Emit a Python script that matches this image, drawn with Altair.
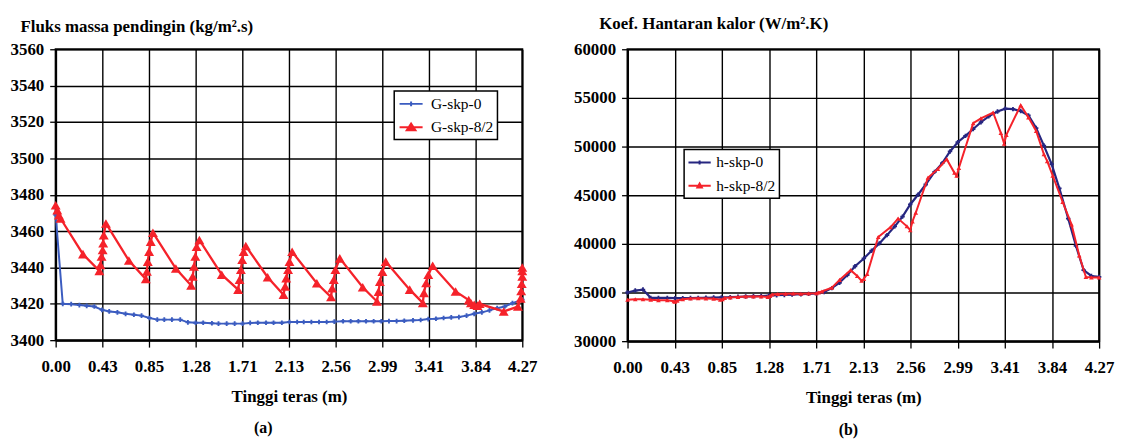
import altair as alt
import pandas as pd

# ---------------- data ----------------
X_TICKS = [0.0, 0.427, 0.854, 1.281, 1.708, 2.135, 2.562, 2.989, 3.416, 3.843, 4.27]
X_LABELS = ["0.00", "0.43", "0.85", "1.28", "1.71", "2.13", "2.56", "2.99", "3.41", "3.84", "4.27"]

# (a) Fluks massa pendingin
g0_x = [0.00, 0.065, 0.142, 0.217, 0.284, 0.354, 0.424, 0.49, 0.565, 0.64,
        0.716, 0.786, 0.858, 0.93, 0.994, 1.064, 1.14, 1.21, 1.28, 1.35,
        1.43, 1.49, 1.565, 1.638, 1.71, 1.78, 1.85, 1.925, 1.994, 2.07,
        2.14, 2.21, 2.27, 2.34, 2.41, 2.48, 2.55, 2.63, 2.70, 2.77,
        2.84, 2.91, 2.98, 3.05, 3.12, 3.19, 3.27, 3.34, 3.41, 3.48,
        3.55, 3.62, 3.69, 3.76, 3.83, 3.90, 3.97, 4.04, 4.11, 4.18, 4.27]
g0_y = [3469, 3420, 3419.8, 3419.3, 3418.9, 3418.5, 3416.7, 3415.8, 3415.3, 3414.5,
        3414, 3413.5, 3412.2, 3411.3, 3411.3, 3411.3, 3411.3, 3409.8, 3409.6, 3409.6,
        3409.3, 3409.1, 3409.1, 3409.1, 3409.1, 3409.5, 3409.6, 3409.6, 3409.6, 3409.6,
        3410, 3410, 3410, 3410, 3410, 3410, 3410.2, 3410.4, 3410.4, 3410.4,
        3410.4, 3410.4, 3410.4, 3410.5, 3410.5, 3410.7, 3410.9, 3411.1, 3411.6, 3411.8,
        3412.2, 3412.5, 3412.7, 3413.5, 3414.5, 3415.3, 3416.4, 3417.6, 3418.5, 3420.4, 3422.3]

g82_x = [0.00, 0.015, 0.03, 0.045, 0.25, 0.40, 0.41, 0.42, 0.43, 0.435, 0.44, 0.46,
         0.67, 0.825, 0.835, 0.843, 0.855, 0.87, 0.89,
         1.10, 1.24, 1.254, 1.266, 1.278, 1.29, 1.315,
         1.52, 1.67, 1.683, 1.695, 1.707, 1.72, 1.74,
         1.94, 2.085, 2.10, 2.11, 2.127, 2.14, 2.164,
         2.39, 2.52, 2.53, 2.545, 2.56, 2.60,
         2.81, 2.94, 2.955, 2.967, 2.99, 3.02,
         3.24, 3.36, 3.37, 3.39, 3.41, 3.45,
         3.66, 3.78, 3.80, 3.83, 3.86, 3.88,
         4.10, 4.23, 4.255, 4.26, 4.265, 4.27, 4.27, 4.27]
g82_y = [3474.2, 3471.5, 3468.7, 3466.9, 3447.3, 3438.1, 3441.4, 3446, 3449.6, 3453.3, 3457.8, 3464.2,
         3443.8, 3433.6, 3437.8, 3443.2, 3448.7, 3454.2, 3459.1,
         3439.4, 3430.1, 3435, 3440.5, 3446, 3451.4, 3455.1,
         3436, 3427.8, 3433.2, 3438.7, 3444.2, 3448.7, 3451.8,
         3434.6, 3425, 3429.6, 3434.1, 3438.7, 3443.2, 3448.6,
         3431.3, 3423.7, 3428.6, 3433.2, 3438.7, 3445,
         3429.1, 3421.3, 3426.7, 3432.2, 3437.7, 3443.2,
         3427.8, 3420.5, 3426, 3431.4, 3436, 3440.9,
         3426.8, 3422, 3420.4, 3419.5, 3419, 3420,
         3415.8, 3418.5, 3423, 3427, 3431, 3435, 3438, 3440]

# (b) Koef. Hantaran kalor
h0_x = [0.00, 0.07, 0.14, 0.21, 0.28, 0.36, 0.43, 0.50, 0.57, 0.64,
        0.71, 0.78, 0.85, 0.93, 1.00, 1.07, 1.14, 1.21, 1.28, 1.35,
        1.42, 1.49, 1.57, 1.64, 1.71, 1.78, 1.85, 1.92, 1.99, 2.06,
        2.14, 2.21, 2.28, 2.35, 2.42, 2.49, 2.56, 2.63, 2.70, 2.78,
        2.85, 2.92, 2.99, 3.06, 3.13, 3.20, 3.27, 3.35, 3.42, 3.49,
        3.56, 3.63, 3.70, 3.77, 3.84, 3.91, 3.99, 4.06, 4.13, 4.20, 4.27]
h0_y = [35000, 35200, 35300, 34450, 34450, 34440, 34420, 34420, 34430, 34450,
        34460, 34480, 34500, 34520, 34560, 34590, 34610, 34640, 34680, 34720,
        34750, 34790, 34820, 34860, 34900, 35050, 35450, 36000, 36800, 37700,
        38500, 39300, 40050, 40900, 41800, 42800, 44050, 45050, 46100, 47400,
        48300, 49500, 50450, 51100, 51800, 52500, 53100, 53600, 53900, 53850,
        53650, 53200, 51900, 50100, 48200, 45700, 42600, 39800, 37300, 36700, 36600]

h82_x = [0.00, 0.07, 0.14, 0.21, 0.28, 0.36, 0.42, 0.43, 0.45, 0.50,
         0.57, 0.64, 0.71, 0.78, 0.84, 0.86, 0.88, 0.93, 1.00, 1.07,
         1.14, 1.21, 1.27, 1.29, 1.31, 1.36, 1.43, 1.50, 1.57, 1.64,
         1.71, 1.73, 1.76, 1.85, 1.92, 2.02, 2.08, 2.12, 2.14, 2.17,
         2.27, 2.38, 2.45, 2.53, 2.56, 2.58, 2.61, 2.72, 2.81, 2.89,
         2.96, 2.98, 3.00, 3.13, 3.20, 3.31, 3.38, 3.41, 3.43, 3.56,
         3.63, 3.70, 3.77, 3.80, 3.85, 3.94, 4.02, 4.09, 4.15, 4.20, 4.27]
h82_y = [34250, 34300, 34300, 34250, 34200, 34200, 34100, 34050, 34150, 34300,
         34380, 34400, 34380, 34350, 34250, 34300, 34450, 34500, 34550, 34580,
         34600, 34600, 34550, 34650, 34800, 34850, 34880, 34900, 34880, 34900,
         34920, 35000, 35100, 35500, 36300, 37300, 36700, 36200, 36400, 36900,
         40700, 41700, 42600, 41800, 41400, 42300, 43200, 46800, 47700, 48700,
         47300, 47000, 47800, 52400, 52900, 53500, 51400, 50300, 51200, 54250,
         53000, 51600, 49200, 48500, 47000, 44300, 42000, 38800, 36600, 36550, 36550]

FONT = "Times New Roman, Liberation Serif, serif"


def panel(series, field, y_domain, y_step, y_title, title_x, title_y, leg_x, leg_y,
          sym_offset, lab_offset, sub_label, sub_dx, sub_offset, width, height):
    x_axis = alt.Axis(values=X_TICKS,
                      labelExpr="[" + ",".join(f"'{l}'" for l in X_LABELS) + "][round(datum.value / 0.427)]",
                      labelFlush=False, labelOverlap=False,
                      title="Tinggi teras (m)", titleY=57, titleBaseline="middle",
                      labelPadding=12, tickSize=7)
    y_axis = alt.Axis(values=list(range(y_domain[0], y_domain[1] + 1, y_step)), format="d",
                      labelFlush=False, labelOverlap=False,
                      title=y_title, titleAngle=0, titleAlign="left", titleBaseline="middle",
                      titleX=title_x, titleY=title_y, labelPadding=6, tickSize=6)
    xe = alt.X("x:Q", scale=alt.Scale(domain=[0, 4.27], nice=False, zero=False), axis=x_axis)
    ye = alt.Y("y:Q", scale=alt.Scale(domain=y_domain, nice=False, zero=False), axis=y_axis)

    layers = []
    frames = []
    for name, xs, ys, color, shape, size, lw, path in series:
        df = pd.DataFrame({"x": xs, "y": ys, field: name})
        frames.append(df)
        base = alt.Chart(df)
        layers.append(base.mark_line(color=color, strokeWidth=lw).encode(x=xe, y=ye))
        layers.append(base.mark_point(shape=shape, size=size, filled=True, color=color,
                                      opacity=1).encode(x=xe, y=ye))

    names = [s[0] for s in series]
    colors = [s[3] for s in series]
    paths = [s[7] for s in series]
    leg = alt.Legend(title=None, orient="none", legendX=leg_x, legendY=leg_y,
                     fillColor="white", strokeColor="black", padding=4, rowPadding=5.5,
                     labelFont=FONT, labelFontSize=15.5, labelFontWeight="normal",
                     labelColor="black", labelOffset=lab_offset, symbolOffset=sym_offset,
                     symbolSize=256, symbolStrokeWidth=2, symbolOpacity=1)
    all_df = pd.concat(frames, ignore_index=True)
    legend_layer = alt.Chart(all_df).mark_point(size=0, opacity=1).encode(
        x=xe, y=ye,
        fill=alt.Fill(f"{field}:N", scale=alt.Scale(domain=names, range=colors), legend=leg),
        stroke=alt.Stroke(f"{field}:N", scale=alt.Scale(domain=names, range=colors), legend=leg),
        shape=alt.Shape(f"{field}:N", scale=alt.Scale(domain=names, range=paths), legend=leg),
    )
    layers.append(legend_layer)

    return alt.layer(*layers).properties(
        width=width, height=height,
        title=alt.TitleParams(sub_label, orient="bottom", anchor="middle", frame="group",
                              dx=sub_dx, offset=sub_offset, font=FONT, fontSize=16,
                              fontWeight="bold", color="black"))


BLUE_A = "#3b5cc0"
RED = "#f5222a"
NAVY = "#262680"

left = panel(
    [("G-skp-0", g0_x, g0_y, BLUE_A, "cross", 22, 2, "M-1.45,0H1.45M0,-0.3V0.3M-0.3,0H0.3"),
     ("G-skp-8/2", g82_x, g82_y, RED, "triangle-up", 100, 2.3, "M-1.45,0H1.45M-0.55,0.4L0,-0.45L0.55,0.4Z")],
    "seri_a", [3400, 3560], 20, "Fluks massa pendingin (kg/m\u00b2.s)", -36, -23, 341, 42,
    4, 11, "(a)", -26, 16, 470, 293)

right = panel(
    [("h-skp-0", h0_x, h0_y, NAVY, "cross", 20, 2.2, "M-1.4,0H1.4M0,-0.25V0.25M-0.25,0H0.25"),
     ("h-skp-8/2", h82_x, h82_y, RED, "triangle-up", 22, 2, "M-1.4,0H1.4M-0.28,0.22L0,-0.28L0.28,0.22Z")],
    "seri_b", [30000, 60000], 5000, "Koef. Hantaran kalor (W/m\u00b2.K)", -29, -26, 57, 101,
    2.6, 7.7, "(b)", -15, 17, 475, 294)

chart = alt.hconcat(left, right, spacing=106, bounds="flush").resolve_scale(
    fill="independent", stroke="independent", shape="independent"
).resolve_legend(
    fill="independent", stroke="independent", shape="independent"
).properties(
    padding={"left": 1, "top": 4, "right": 0, "bottom": 0}
).configure_view(
    stroke="black", strokeWidth=2
).configure_axis(
    grid=True, gridColor="black", gridWidth=1.4, gridOpacity=1,
    domainColor="black", domainWidth=2, tickColor="black", tickWidth=1.3,
    labelFont=FONT, labelFontSize=17, labelFontWeight="bold", labelColor="black",
    titleFont=FONT, titleFontSize=17, titleFontWeight="bold", titleColor="black",
).configure_legend(
    strokeWidth=1.5
)

chart.save("out.html", embed_options={"renderer": "svg", "actions": False})
